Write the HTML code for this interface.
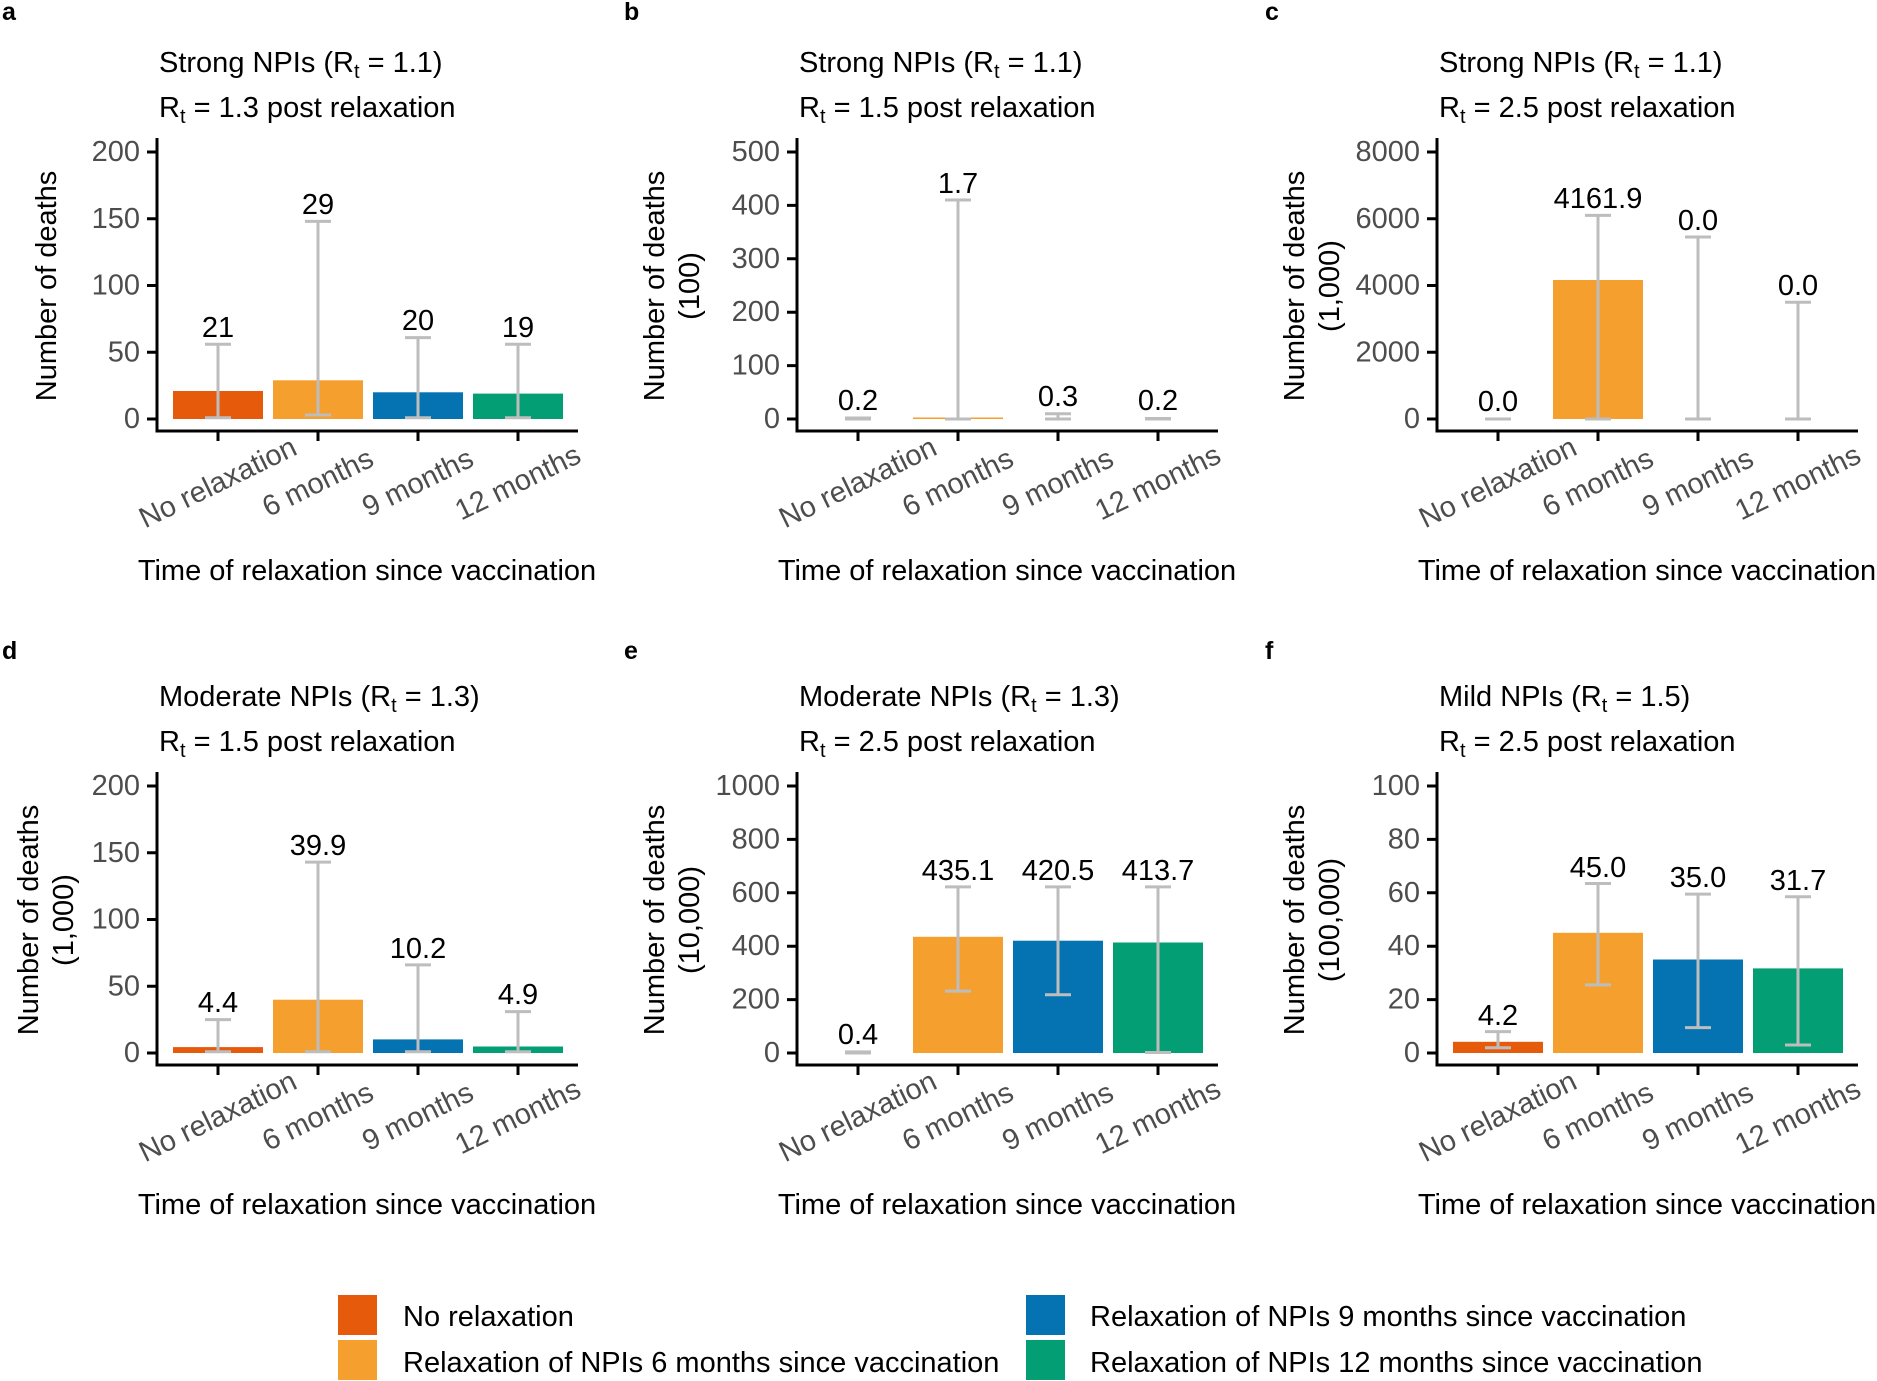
<!DOCTYPE html>
<html><head><meta charset="utf-8"><style>
html,body{margin:0;padding:0;background:#fff;}
svg{display:block;font-family:"Liberation Sans",Arial,sans-serif;}
.tk{font-size:29px;fill:#4d4d4d;}
.vl{font-size:29px;fill:#000;text-anchor:middle;}
.xl{font-size:29px;fill:#4d4d4d;text-anchor:middle;}
.xt{font-size:29px;fill:#000;text-anchor:middle;}
.tt{font-size:29px;fill:#000;}
.yt{font-size:29px;fill:#000;text-anchor:middle;}
.pl{font-size:25px;font-weight:bold;fill:#000;}
.lg{font-size:29px;fill:#000;}
.ax{stroke:#000;stroke-width:3;fill:none;}
.eb{stroke:#bdbdbd;stroke-width:3;fill:none;}
</style></head><body>
<svg width="1877" height="1381" viewBox="0 0 1877 1381" xmlns="http://www.w3.org/2000/svg">
<defs>
<g id="xlab">
<text class="xl" transform="translate(61,64) rotate(-26)" dominant-baseline="central">No relaxation</text>
<text class="xl" transform="translate(161,64) rotate(-26)" dominant-baseline="central">6 months</text>
<text class="xl" transform="translate(261,64) rotate(-26)" dominant-baseline="central">9 months</text>
<text class="xl" transform="translate(361,64) rotate(-26)" dominant-baseline="central">12 months</text>
<text class="xt" x="210" y="161">Time of relaxation since vaccination</text>
<path class="ax" d="M0,-281 V12 H421 M61,12 V22 M161,12 V22 M261,12 V22 M361,12 V22"/>
</g>
</defs>

<!-- Panel a -->
<g transform="translate(157,419)">
<text class="pl" x="-155" y="-399">a</text>
<text class="tt" x="2" y="-347">Strong NPIs (R<tspan font-size="20" dy="6">t</tspan><tspan dy="-6"> = 1.1)</tspan></text>
<text class="tt" x="2" y="-302">R<tspan font-size="20" dy="6">t</tspan><tspan dy="-6"> = 1.3 post relaxation</tspan></text>
<text class="yt" transform="translate(-110,-133) rotate(-90)" dominant-baseline="central">Number of deaths</text>
<rect x="16" y="-28" width="90" height="28" fill="#E65A0C"/>
<rect x="116" y="-38.7" width="90" height="38.7" fill="#F5A02E"/>
<rect x="216" y="-26.7" width="90" height="26.7" fill="#0572B2"/>
<rect x="316" y="-25.4" width="90" height="25.4" fill="#039E73"/>
<path class="eb" d="M61,-1.3V-74.8M48,-1.3H74M48,-74.8H74 M161,-4V-197.6M148,-4H174M148,-197.6H174 M261,-1.3V-81.4M248,-1.3H274M248,-81.4H274 M361,-1.3V-74.8M348,-1.3H374M348,-74.8H374"/>
<text class="vl" x="61" y="-82">21</text><text class="vl" x="161" y="-205">29</text><text class="vl" x="261" y="-89">20</text><text class="vl" x="361" y="-82">19</text>
<g class="tk" text-anchor="end" dominant-baseline="central">
<text x="-17" y="0">0</text><text x="-17" y="-66.75">50</text><text x="-17" y="-133.5">100</text><text x="-17" y="-200.25">150</text><text x="-17" y="-267">200</text></g>
<path class="ax" d="M-10,0H0M-10,-66.75H0M-10,-133.5H0M-10,-200.25H0M-10,-267H0"/>
<use href="#xlab"/>
</g>

<!-- Panel b -->
<g transform="translate(797,419)">
<text class="pl" x="-173" y="-399">b</text>
<text class="tt" x="2" y="-347">Strong NPIs (R<tspan font-size="20" dy="6">t</tspan><tspan dy="-6"> = 1.1)</tspan></text>
<text class="tt" x="2" y="-302">R<tspan font-size="20" dy="6">t</tspan><tspan dy="-6"> = 1.5 post relaxation</tspan></text>
<text class="yt" transform="translate(-142,-133) rotate(-90)" dominant-baseline="central">Number of deaths</text>
<text class="yt" transform="translate(-107,-133) rotate(-90)" dominant-baseline="central">(100)</text>
<rect x="116" y="-1.5" width="90" height="1.5" fill="#F5A02E"/>
<path class="eb" d="M61,0V-1M48,0H74M48,-1H74 M161,0V-219M148,0H174M148,-219H174 M261,0V-5.3M248,0H274M248,-5.3H274 M361,0V-0.5M348,0H374M348,-0.5H374"/>
<text class="vl" x="61" y="-9">0.2</text><text class="vl" x="161" y="-226">1.7</text><text class="vl" x="261" y="-13">0.3</text><text class="vl" x="361" y="-9">0.2</text>
<g class="tk" text-anchor="end" dominant-baseline="central">
<text x="-17" y="0">0</text><text x="-17" y="-53.4">100</text><text x="-17" y="-106.8">200</text><text x="-17" y="-160.2">300</text><text x="-17" y="-213.6">400</text><text x="-17" y="-267">500</text></g>
<path class="ax" d="M-10,0H0M-10,-53.4H0M-10,-106.8H0M-10,-160.2H0M-10,-213.6H0M-10,-267H0"/>
<use href="#xlab"/>
</g>

<!-- Panel c -->
<g transform="translate(1437,419)">
<text class="pl" x="-172" y="-399">c</text>
<text class="tt" x="2" y="-347">Strong NPIs (R<tspan font-size="20" dy="6">t</tspan><tspan dy="-6"> = 1.1)</tspan></text>
<text class="tt" x="2" y="-302">R<tspan font-size="20" dy="6">t</tspan><tspan dy="-6"> = 2.5 post relaxation</tspan></text>
<text class="yt" transform="translate(-142,-133) rotate(-90)" dominant-baseline="central">Number of deaths</text>
<text class="yt" transform="translate(-107,-133) rotate(-90)" dominant-baseline="central">(1,000)</text>
<rect x="116" y="-139" width="90" height="139" fill="#F5A02E"/>
<path class="eb" d="M61,0V0M48,0H74 M161,0V-203.6M148,0H174M148,-203.6H174 M261,0V-182M248,0H274M248,-182H274 M361,0V-116.8M348,0H374M348,-116.8H374"/>
<text class="vl" x="61" y="-8">0.0</text><text class="vl" x="161" y="-211">4161.9</text><text class="vl" x="261" y="-189">0.0</text><text class="vl" x="361" y="-124">0.0</text>
<g class="tk" text-anchor="end" dominant-baseline="central">
<text x="-17" y="0">0</text><text x="-17" y="-66.75">2000</text><text x="-17" y="-133.5">4000</text><text x="-17" y="-200.25">6000</text><text x="-17" y="-267">8000</text></g>
<path class="ax" d="M-10,0H0M-10,-66.75H0M-10,-133.5H0M-10,-200.25H0M-10,-267H0"/>
<use href="#xlab"/>
</g>

<!-- Panel d -->
<g transform="translate(157,1053)">
<text class="pl" x="-155" y="-394">d</text>
<text class="tt" x="2" y="-347">Moderate NPIs (R<tspan font-size="20" dy="6">t</tspan><tspan dy="-6"> = 1.3)</tspan></text>
<text class="tt" x="2" y="-302">R<tspan font-size="20" dy="6">t</tspan><tspan dy="-6"> = 1.5 post relaxation</tspan></text>
<text class="yt" transform="translate(-128,-133) rotate(-90)" dominant-baseline="central">Number of deaths</text>
<text class="yt" transform="translate(-93,-133) rotate(-90)" dominant-baseline="central">(1,000)</text>
<rect x="16" y="-5.9" width="90" height="5.9" fill="#E65A0C"/>
<rect x="116" y="-53.3" width="90" height="53.3" fill="#F5A02E"/>
<rect x="216" y="-13.6" width="90" height="13.6" fill="#0572B2"/>
<rect x="316" y="-6.5" width="90" height="6.5" fill="#039E73"/>
<path class="eb" d="M61,-1.3V-33.4M48,-1.3H74M48,-33.4H74 M161,-1.3V-190.9M148,-1.3H174M148,-190.9H174 M261,-1.3V-88.1M248,-1.3H274M248,-88.1H274 M361,-1.3V-41.4M348,-1.3H374M348,-41.4H374"/>
<text class="vl" x="61" y="-41">4.4</text><text class="vl" x="161" y="-198">39.9</text><text class="vl" x="261" y="-95">10.2</text><text class="vl" x="361" y="-49">4.9</text>
<g class="tk" text-anchor="end" dominant-baseline="central">
<text x="-17" y="0">0</text><text x="-17" y="-66.75">50</text><text x="-17" y="-133.5">100</text><text x="-17" y="-200.25">150</text><text x="-17" y="-267">200</text></g>
<path class="ax" d="M-10,0H0M-10,-66.75H0M-10,-133.5H0M-10,-200.25H0M-10,-267H0"/>
<use href="#xlab"/>
</g>

<!-- Panel e -->
<g transform="translate(797,1053)">
<text class="pl" x="-173" y="-394">e</text>
<text class="tt" x="2" y="-347">Moderate NPIs (R<tspan font-size="20" dy="6">t</tspan><tspan dy="-6"> = 1.3)</tspan></text>
<text class="tt" x="2" y="-302">R<tspan font-size="20" dy="6">t</tspan><tspan dy="-6"> = 2.5 post relaxation</tspan></text>
<text class="yt" transform="translate(-142,-133) rotate(-90)" dominant-baseline="central">Number of deaths</text>
<text class="yt" transform="translate(-107,-133) rotate(-90)" dominant-baseline="central">(10,000)</text>
<rect x="116" y="-116.2" width="90" height="116.2" fill="#F5A02E"/>
<rect x="216" y="-112.3" width="90" height="112.3" fill="#0572B2"/>
<rect x="316" y="-110.5" width="90" height="110.5" fill="#039E73"/>
<path class="eb" d="M61,0V-1.1M48,0H74M48,-1.1H74 M161,-61.9V-166.1M148,-61.9H174M148,-166.1H174 M261,-58.2V-166.1M248,-58.2H274M248,-166.1H274 M361,-0.5V-166.1M348,-0.5H374M348,-166.1H374"/>
<text class="vl" x="61" y="-9">0.4</text><text class="vl" x="161" y="-173">435.1</text><text class="vl" x="261" y="-173">420.5</text><text class="vl" x="361" y="-173">413.7</text>
<g class="tk" text-anchor="end" dominant-baseline="central">
<text x="-17" y="0">0</text><text x="-17" y="-53.4">200</text><text x="-17" y="-106.8">400</text><text x="-17" y="-160.2">600</text><text x="-17" y="-213.6">800</text><text x="-17" y="-267">1000</text></g>
<path class="ax" d="M-10,0H0M-10,-53.4H0M-10,-106.8H0M-10,-160.2H0M-10,-213.6H0M-10,-267H0"/>
<use href="#xlab"/>
</g>

<!-- Panel f -->
<g transform="translate(1437,1053)">
<text class="pl" x="-172" y="-394">f</text>
<text class="tt" x="2" y="-347">Mild NPIs (R<tspan font-size="20" dy="6">t</tspan><tspan dy="-6"> = 1.5)</tspan></text>
<text class="tt" x="2" y="-302">R<tspan font-size="20" dy="6">t</tspan><tspan dy="-6"> = 2.5 post relaxation</tspan></text>
<text class="yt" transform="translate(-142,-133) rotate(-90)" dominant-baseline="central">Number of deaths</text>
<text class="yt" transform="translate(-107,-133) rotate(-90)" dominant-baseline="central">(100,000)</text>
<rect x="16" y="-11.2" width="90" height="11.2" fill="#E65A0C"/>
<rect x="116" y="-120.2" width="90" height="120.2" fill="#F5A02E"/>
<rect x="216" y="-93.5" width="90" height="93.5" fill="#0572B2"/>
<rect x="316" y="-84.6" width="90" height="84.6" fill="#039E73"/>
<path class="eb" d="M61,-5.3V-21.4M48,-5.3H74M48,-21.4H74 M161,-68.1V-169.5M148,-68.1H174M148,-169.5H174 M261,-25.4V-158.9M248,-25.4H274M248,-158.9H274 M361,-8V-156.2M348,-8H374M348,-156.2H374"/>
<text class="vl" x="61" y="-28">4.2</text><text class="vl" x="161" y="-176">45.0</text><text class="vl" x="261" y="-166">35.0</text><text class="vl" x="361" y="-163">31.7</text>
<g class="tk" text-anchor="end" dominant-baseline="central">
<text x="-17" y="0">0</text><text x="-17" y="-53.4">20</text><text x="-17" y="-106.8">40</text><text x="-17" y="-160.2">60</text><text x="-17" y="-213.6">80</text><text x="-17" y="-267">100</text></g>
<path class="ax" d="M-10,0H0M-10,-53.4H0M-10,-106.8H0M-10,-160.2H0M-10,-213.6H0M-10,-267H0"/>
<use href="#xlab"/>
</g>

<!-- Legend -->
<rect x="338" y="1295" width="39" height="40" fill="#E65A0C"/>
<rect x="338" y="1340" width="39" height="40" fill="#F5A02E"/>
<text class="lg" x="403" y="1326">No relaxation</text>
<text class="lg" x="403" y="1372">Relaxation of NPIs 6 months since vaccination</text>
<rect x="1026" y="1295" width="39" height="40" fill="#0572B2"/>
<rect x="1026" y="1340" width="39" height="40" fill="#039E73"/>
<text class="lg" x="1090" y="1326">Relaxation of NPIs 9 months since vaccination</text>
<text class="lg" x="1090" y="1372">Relaxation of NPIs 12 months since vaccination</text>
</svg>
</body></html>
